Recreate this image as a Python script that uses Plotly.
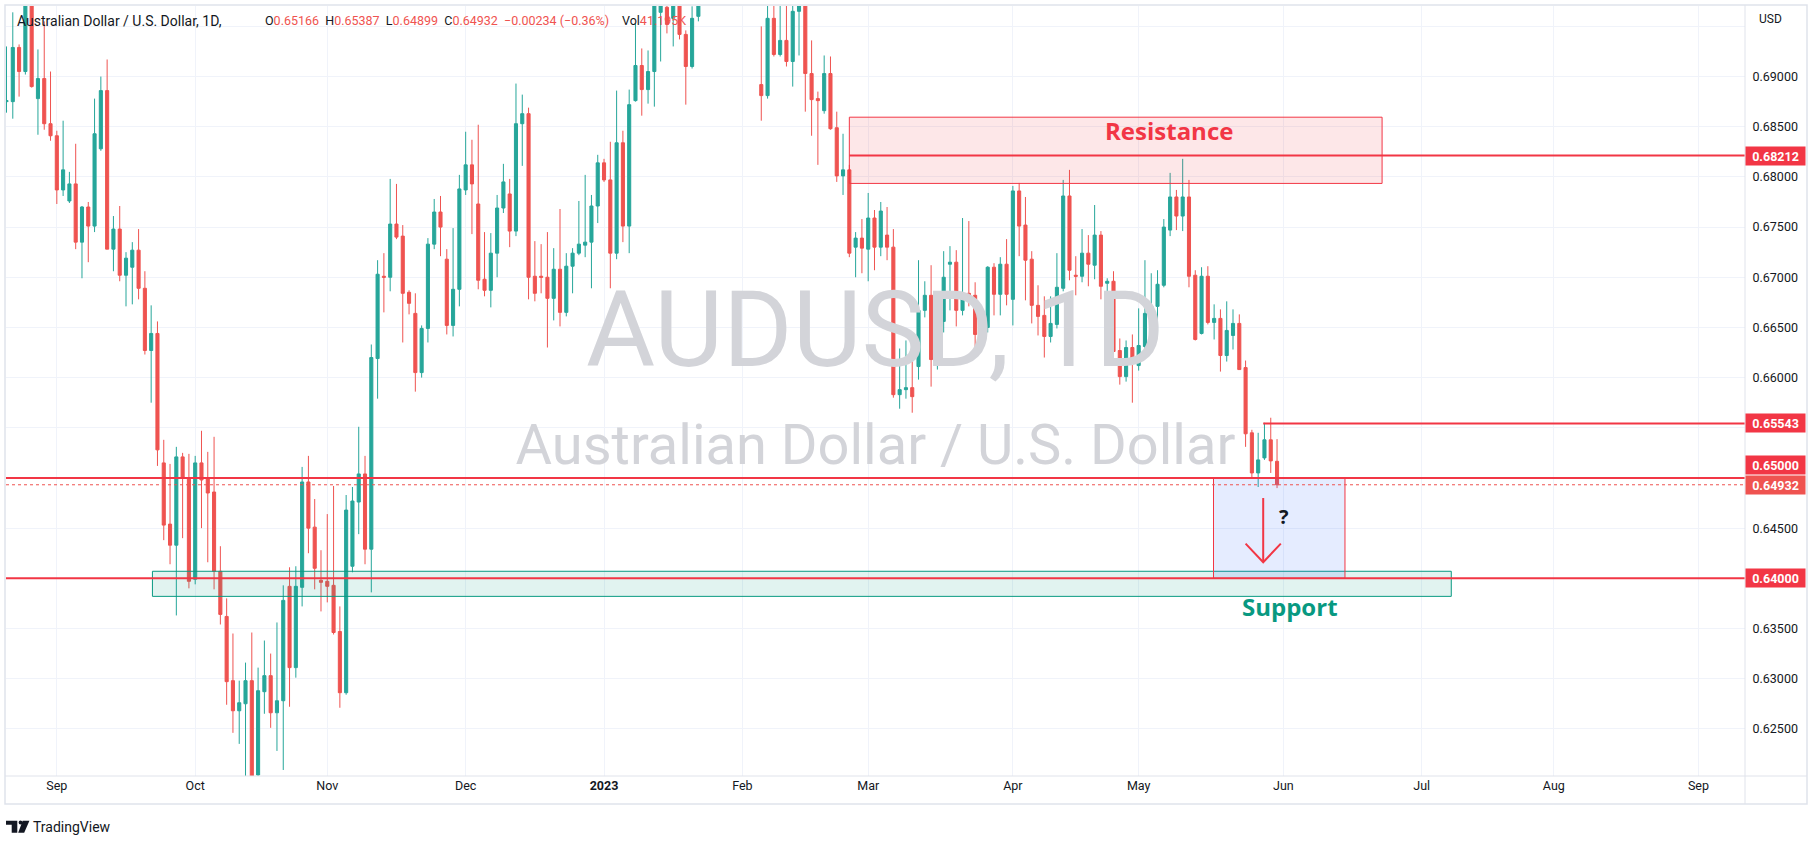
import numpy as np
import pandas as pd
import plotly.graph_objects as go

# ---------------- data (AUDUSD daily) ----------------
dates = pd.bdate_range("2022-08-22", "2023-05-31")

opens = [
    # Aug 22-31
    0.6875, 0.6875, 0.6929, 0.6905, 0.6990, 0.6878, 0.6898, 0.6853,
    # Sep
    0.6841, 0.6787, 0.6776, 0.6793, 0.6735, 0.6770, 0.6751, 0.6828, 0.6886, 0.6728, 0.6748,
    0.6702, 0.6710, 0.6727, 0.6689, 0.6627, 0.6644, 0.6515, 0.6454, 0.6433, 0.6521, 0.6500,
    # Oct
    0.6399, 0.6515, 0.6499, 0.6486, 0.6407, 0.6362, 0.6298, 0.6268, 0.6275, 0.6298, 0.6204,
    0.6287, 0.6303, 0.6266, 0.6278, 0.6392, 0.6311, 0.6391, 0.6496, 0.6451, 0.6398,
    # Nov
    0.6397, 0.6393, 0.6347, 0.6286, 0.6412, 0.6476, 0.6504, 0.6429, 0.6619, 0.6701, 0.6700,
    0.6753, 0.6741, 0.6685, 0.6664, 0.6605, 0.6649, 0.6733, 0.6765, 0.6718, 0.6652, 0.6688,
    # Dec
    0.6787, 0.6812, 0.6773, 0.6698, 0.6687, 0.6724, 0.6769, 0.6783, 0.6746, 0.6853, 0.6863,
    0.6701, 0.6701, 0.6700, 0.6679, 0.6708, 0.6665, 0.6711, 0.6724, 0.6732, 0.6735, 0.6771,
    # Jan
    0.6814, 0.6797, 0.6724, 0.6834, 0.6751, 0.6876, 0.6911, 0.6887, 0.6905, 0.6964, 0.6969,
    0.6958, 0.6985, 0.6942, 0.6910, 0.6960, 0.7025, 0.7010, 0.7090, 0.7115, 0.7100, 0.7050,
    # Feb
    0.7055, 0.7120, 0.7050, 0.6892, 0.6881, 0.6958, 0.6922, 0.6936, 0.6915, 0.6965,
    0.6990, 0.6903, 0.6878, 0.6866, 0.6903, 0.6849, 0.6801, 0.6807, 0.6730, 0.6739,
    # Mar
    0.6728, 0.6759, 0.6730, 0.6742, 0.6730, 0.6583, 0.6588, 0.6590, 0.6611, 0.6667, 0.6682, 0.6618,
    0.6656, 0.6713, 0.6715, 0.6667, 0.6684, 0.6682, 0.6652, 0.6650, 0.6710, 0.6683, 0.6713,
    # Apr
    0.6678, 0.6786, 0.6752, 0.6718, 0.6672, 0.6662, 0.6641, 0.6653, 0.6689, 0.6781,
    0.6702, 0.6701, 0.6724, 0.6712, 0.6742, 0.6694, 0.6696, 0.6627, 0.6601, 0.6630,
    # May
    0.6612, 0.6631, 0.6663, 0.6671, 0.6692, 0.6747, 0.6780, 0.6761, 0.6780, 0.6702, 0.6644, 0.6701,
    0.6655, 0.6659, 0.6622, 0.6642, 0.6654, 0.6610, 0.6545, 0.6505, 0.6520, 0.6538, 0.65166,
]
highs = [
    0.6930, 0.6964, 0.6932, 0.7005, 0.7008, 0.6927, 0.6955, 0.6905,
    0.6846, 0.6856, 0.6805, 0.6833, 0.6771, 0.6775, 0.6878, 0.6900, 0.6917, 0.6761, 0.6771,
    0.6725, 0.6735, 0.6748, 0.6706, 0.6672, 0.6656, 0.6538, 0.6514, 0.6531, 0.6525, 0.6524,
    0.6522, 0.6547, 0.6526, 0.6541, 0.6432, 0.6380, 0.6345, 0.6298, 0.6316, 0.6346, 0.6311,
    0.6338, 0.6325, 0.6356, 0.6393, 0.6411, 0.6412, 0.6511, 0.6522, 0.6479, 0.6428,
    0.6464, 0.6492, 0.6372, 0.6483, 0.6491, 0.6551, 0.6522, 0.6633, 0.6717, 0.6724, 0.6798,
    0.6793, 0.6752, 0.6687, 0.6684, 0.6652, 0.6739, 0.6778, 0.6781, 0.6728, 0.6749, 0.6802,
    0.6845, 0.6837, 0.6852, 0.6745, 0.6744, 0.6782, 0.6813, 0.6798, 0.6893, 0.6882, 0.6869,
    0.6736, 0.6733, 0.6745, 0.6729, 0.6768, 0.6724, 0.6729, 0.6776, 0.6802, 0.6782, 0.6822,
    0.6818, 0.6835, 0.6886, 0.6846, 0.6887, 0.6953, 0.6928, 0.6926, 0.6990, 0.7000, 0.6995,
    0.6990, 0.7010, 0.6946, 0.6970, 0.7040, 0.7060, 0.7100, 0.7142, 0.7135, 0.7110, 0.7070,
    0.7140, 0.7158, 0.7080, 0.6950, 0.6985, 0.6985, 0.6985, 0.6985, 0.6985, 0.7030,
    0.7010, 0.6936, 0.6885, 0.6921, 0.6920, 0.6865, 0.6843, 0.6812, 0.6745, 0.6758,
    0.6784, 0.6767, 0.6775, 0.6770, 0.6748, 0.6629, 0.6637, 0.6640, 0.6717, 0.6696, 0.6712, 0.6669,
    0.6726, 0.6731, 0.6727, 0.6759, 0.6756, 0.6695, 0.6666, 0.6711, 0.6714, 0.6720, 0.6738,
    0.6791, 0.6794, 0.6780, 0.6726, 0.6692, 0.6681, 0.6681, 0.6724, 0.6797, 0.6807,
    0.6721, 0.6748, 0.6742, 0.6772, 0.6746, 0.6699, 0.6706, 0.6639, 0.6637, 0.6643,
    0.6669, 0.6717, 0.6704, 0.6707, 0.6758, 0.6804, 0.6787, 0.6818, 0.6797, 0.6707, 0.6710, 0.6711,
    0.6673, 0.6668, 0.6676, 0.6668, 0.6663, 0.6617, 0.6548, 0.6545, 0.6555, 0.6560, 0.65387,
]
lows = [
    0.6864, 0.6858, 0.6880, 0.6902, 0.6889, 0.6842, 0.6847, 0.6836,
    0.6773, 0.6781, 0.6774, 0.6728, 0.6699, 0.6715, 0.6745, 0.6826, 0.6728, 0.6706, 0.6696,
    0.6671, 0.6673, 0.6678, 0.6623, 0.6575, 0.6512, 0.6438, 0.6414, 0.6363, 0.6440, 0.6390,
    0.6394, 0.6450, 0.6416, 0.6389, 0.6354, 0.6274, 0.6246, 0.6235, 0.6170, 0.6185, 0.6202,
    0.6265, 0.6251, 0.6228, 0.6209, 0.6272, 0.6301, 0.6372, 0.6425, 0.6389, 0.6367,
    0.6376, 0.6344, 0.6271, 0.6284, 0.6406, 0.6444, 0.6414, 0.6386, 0.6579, 0.6665, 0.6686,
    0.6738, 0.6635, 0.6663, 0.6586, 0.6600, 0.6635, 0.6728, 0.6721, 0.6643, 0.6641, 0.6671,
    0.6782, 0.6743, 0.6688, 0.6681, 0.6670, 0.6700, 0.6764, 0.6730, 0.6741, 0.6811, 0.6678,
    0.6676, 0.6684, 0.6630, 0.6657, 0.6651, 0.6661, 0.6684, 0.6722, 0.6720, 0.6689, 0.6754,
    0.6795, 0.6689, 0.6718, 0.6735, 0.6724, 0.6875, 0.6861, 0.6873, 0.6870, 0.6915, 0.6943,
    0.6930, 0.6937, 0.6872, 0.6908, 0.6955, 0.6990, 0.6995, 0.7070, 0.7075, 0.7040, 0.7010,
    0.7030, 0.7040, 0.6979, 0.6856, 0.6878, 0.6920, 0.6920, 0.6910, 0.6890, 0.6921,
    0.6865, 0.6841, 0.6812, 0.6863, 0.6847, 0.6795, 0.6782, 0.6720, 0.6700, 0.6704,
    0.6696, 0.6707, 0.6721, 0.6717, 0.6580, 0.6569, 0.6579, 0.6565, 0.6598, 0.6660, 0.6591, 0.6608,
    0.6645, 0.6667, 0.6651, 0.6662, 0.6671, 0.6626, 0.6635, 0.6645, 0.6662, 0.6662, 0.6672,
    0.6652, 0.6721, 0.6677, 0.6654, 0.6642, 0.6620, 0.6635, 0.6649, 0.6686, 0.6697,
    0.6682, 0.6695, 0.6691, 0.6698, 0.6678, 0.6667, 0.6616, 0.6593, 0.6596, 0.6575,
    0.6607, 0.6623, 0.6651, 0.6642, 0.6690, 0.6741, 0.6747, 0.6746, 0.6690, 0.6637, 0.6643, 0.6653,
    0.6638, 0.6606, 0.6616, 0.6628, 0.6608, 0.6531, 0.6500, 0.6491, 0.6518, 0.6505, 0.64899,
]
closes = [
    0.6876, 0.6929, 0.6905, 0.6990, 0.6890, 0.6898, 0.6853, 0.6841,
    0.6787, 0.6807, 0.6793, 0.6735, 0.6770, 0.6751, 0.6843, 0.6886, 0.6728, 0.6748, 0.6702,
    0.6719, 0.6727, 0.6689, 0.6627, 0.6644, 0.6528, 0.6453, 0.6433, 0.6521, 0.6500, 0.6397,
    0.6515, 0.6498, 0.6485, 0.6407, 0.6364, 0.6297, 0.6268, 0.6276, 0.6298, 0.6199, 0.6288,
    0.6303, 0.6266, 0.6278, 0.6378, 0.6311, 0.6392, 0.6496, 0.6450, 0.6410, 0.6396,
    0.6392, 0.6346, 0.6286, 0.6468, 0.6477, 0.6504, 0.6429, 0.6620, 0.6703, 0.6700, 0.6753,
    0.6740, 0.6684, 0.6674, 0.6605, 0.6649, 0.6733, 0.6765, 0.6750, 0.6652, 0.6688, 0.6788,
    0.6812, 0.6793, 0.6697, 0.6687, 0.6724, 0.6769, 0.6795, 0.6746, 0.6853, 0.6863, 0.6700,
    0.6684, 0.6700, 0.6679, 0.6708, 0.6665, 0.6711, 0.6724, 0.6733, 0.6735, 0.6771, 0.6814,
    0.6797, 0.6724, 0.6834, 0.6751, 0.6872, 0.6911, 0.6887, 0.6905, 0.6975, 0.6990, 0.6952,
    0.6980, 0.6942, 0.6910, 0.6958, 0.7025, 0.7010, 0.7090, 0.7115, 0.7100, 0.7050, 0.7055,
    0.7120, 0.7050, 0.6980, 0.6881, 0.6958, 0.6922, 0.6936, 0.6915, 0.6965, 0.6990,
    0.6903, 0.6877, 0.6876, 0.6903, 0.6848, 0.6801, 0.6807, 0.6724, 0.6739, 0.6729,
    0.6759, 0.6730, 0.6766, 0.6730, 0.6583, 0.6588, 0.6590, 0.6581, 0.6667, 0.6682, 0.6618, 0.6657,
    0.6700, 0.6715, 0.6667, 0.6684, 0.6682, 0.6643, 0.6650, 0.6710, 0.6683, 0.6713, 0.6683,
    0.6786, 0.6751, 0.6717, 0.6672, 0.6661, 0.6641, 0.6654, 0.6690, 0.6781, 0.6707,
    0.6701, 0.6724, 0.6713, 0.6742, 0.6691, 0.6696, 0.6626, 0.6601, 0.6630, 0.6614,
    0.6632, 0.6664, 0.6671, 0.6693, 0.6750, 0.6780, 0.6761, 0.6780, 0.6701, 0.6638, 0.6701, 0.6655,
    0.6659, 0.6622, 0.6647, 0.6654, 0.6608, 0.6544, 0.6505, 0.6518, 0.6538, 0.6517, 0.64932,
]
assert len(opens) == len(highs) == len(lows) == len(closes) == len(dates)

month_ticks = ["2022-09-01", "2022-10-03", "2022-11-01", "2022-12-01", "2023-01-02",
               "2023-02-01", "2023-03-01", "2023-04-03", "2023-05-01", "2023-06-01",
               "2023-07-03", "2023-08-01", "2023-09-01"]
month_labels = ["Sep", "Oct", "Nov", "Dec", "<b>2023</b>", "Feb", "Mar", "Apr", "May",
                "Jun", "Jul", "Aug", "Sep"]
price_ticks = [0.625, 0.630, 0.635, 0.640, 0.645, 0.650, 0.655, 0.660, 0.665,
               0.670, 0.675, 0.680, 0.685, 0.690, 0.695]
# tick labels hidden behind the price tags / header in the original
hidden_ticks = [0.640, 0.650, 0.655, 0.695]

# key levels (drawings)
resistance_level = 0.68212
recent_high = 0.65543
level_650 = 0.65000
support_level = 0.64000
last_price = closes[-1]
resistance_zone = (0.67935, 0.68595)
support_zone = (0.6382, 0.6407)
target_zone = (0.6400, 0.6500)
day_change, day_change_pct = -0.00234, -0.36
volume_text = "41.195K"

# ---------------- helpers ----------------
ORIGIN = np.datetime64("2022-09-01")


def bar(d):
    return int(np.busday_count(ORIGIN, np.datetime64(d)))


W, H = 1820, 846
ML, MR, MT, MB = 6, 75, 6, 70
PW, PH = W - ML - MR, H - MT - MB


def px(x):   # pixel x -> paper
    return (x - ML) / PW


def py(y):   # pixel y -> paper
    return (H - MB - y) / PH


x_idx = np.busday_count(ORIGIN, dates.values.astype("datetime64[D]"))
X0, X1 = -8.08, 268.4
Y0, Y1 = 0.6203, 0.69703

RED = "#f23645"
TEAL_TXT = "#089981"
UP = "#26a69a"
DOWN = "#ef5350"
INK = "#131722"
FONT = "Roboto"

fig = go.Figure()

# watermark (behind candles)
fig.add_trace(go.Scatter(
    x=[(X0 + X1) / 2, (X0 + X1) / 2], y=[0.66375, 0.65279],
    mode="text", text=["AUDUSD, 1D", "Australian Dollar / U.S. Dollar"],
    textfont=dict(family=FONT, size=[106, 56], color="#d3d4d9"),
    hoverinfo="skip", showlegend=False))

fig.add_trace(go.Candlestick(
    x=x_idx, open=opens, high=highs, low=lows, close=closes,
    increasing=dict(line=dict(color=UP, width=1), fillcolor=UP),
    decreasing=dict(line=dict(color=DOWN, width=1), fillcolor=DOWN),
    whiskerwidth=0, showlegend=False))

shapes = []
# zones
shapes.append(dict(type="rect", xref="x", yref="y", x0=bar("2023-02-24"), x1=bar("2023-06-23") - 0.3,
                   y0=resistance_zone[0], y1=resistance_zone[1],
                   fillcolor="rgba(242,54,69,0.12)", line=dict(color=RED, width=1)))
shapes.append(dict(type="rect", xref="x", yref="y", x0=bar("2022-09-22") + 0.2, x1=bar("2023-07-07") + 0.7,
                   y0=support_zone[0], y1=support_zone[1],
                   fillcolor="rgba(8,153,129,0.12)", line=dict(color=TEAL_TXT, width=1)))
shapes.append(dict(type="rect", xref="x", yref="y", x0=bar("2023-05-17") - 0.1, x1=bar("2023-06-15") - 0.2,
                   y0=target_zone[0], y1=target_zone[1],
                   fillcolor="rgba(41,98,255,0.12)", line=dict(color=RED, width=1)))
# horizontal levels
shapes.append(dict(type="line", xref="paper", yref="y", x0=0, x1=1, y0=level_650, y1=level_650,
                   line=dict(color=RED, width=2)))
shapes.append(dict(type="line", xref="paper", yref="y", x0=0, x1=1, y0=support_level, y1=support_level,
                   line=dict(color=RED, width=2)))
shapes.append(dict(type="line", xref="x", yref="y", x0=bar("2023-02-24"), x1=X1,
                   y0=resistance_level, y1=resistance_level, line=dict(color=RED, width=2)))
shapes.append(dict(type="line", xref="x", yref="y", x0=bar("2023-05-29") - 0.2, x1=X1,
                   y0=recent_high, y1=recent_high, line=dict(color=RED, width=2)))
shapes.append(dict(type="line", xref="paper", yref="y", x0=0, x1=1, y0=last_price, y1=last_price,
                   line=dict(color=DOWN, width=1, dash="dot")))
# arrow
ax = bar("2023-05-29") - 0.2
shapes.append(dict(type="line", xref="x", yref="y", x0=ax, x1=ax, y0=0.6480, y1=0.6417,
                   line=dict(color=RED, width=2)))
shapes.append(dict(type="path", xref="x", yref="y",
                   path=f"M {ax - 2.8},0.64346 L {ax},0.64160 L {ax + 2.8},0.64346",
                   line=dict(color=RED, width=2)))
# frame / separators
FR = "#e0e3eb"
shapes.append(dict(type="rect", xref="paper", yref="paper", x0=px(5), x1=px(1807), y0=py(804), y1=py(5),
                   line=dict(color=FR, width=1.5), fillcolor="rgba(0,0,0,0)", layer="below"))
shapes.append(dict(type="line", xref="paper", yref="paper", x0=1, x1=1, y0=py(804), y1=py(5),
                   line=dict(color=FR, width=1)))
shapes.append(dict(type="line", xref="paper", yref="paper", x0=px(5), x1=px(1807), y0=0, y1=0,
                   line=dict(color=FR, width=1)))


# TradingView logo glyph
def ppath(points):
    return "M " + " L ".join(f"{px(a)},{py(b)}" for a, b in points) + " Z"


logo = dict(type="path", xref="paper", yref="paper", fillcolor=INK, line=dict(width=0))
shapes.append(dict(logo, path=ppath([(6, 820.7), (17.3, 820.7), (17.3, 832.7), (11.7, 832.7),
                                     (11.7, 824.7), (6, 824.7)])))
shapes.append(dict(logo, path=ppath([(22.6, 820.7), (29.4, 820.7), (24.2, 832.7), (18.2, 832.7)])))
shapes.append(dict(type="circle", xref="paper", yref="paper", x0=px(18.6), x1=px(22.4),
                   y0=py(824.4), y1=py(820.6), fillcolor=INK, line=dict(width=0)))

annotations = []
# price tags on the axis (0.65000 tag pushed up by the last-price tag, as in the original)
for val, col, shift in [(resistance_level, RED, 0), (recent_high, RED, 0), (level_650, RED, 13),
                        (last_price, DOWN, 0), (support_level, RED, 0)]:
    annotations.append(dict(xref="paper", yref="y", x=1, y=val, xanchor="left", yanchor="middle",
                            yshift=shift, text=f"<b>{val:.5f}</b>", showarrow=False,
                            font=dict(family=FONT, size=12.5, color="white"),
                            bgcolor=col, width=55, height=14, borderpad=2, align="center"))
# drawing texts
annotations.append(dict(xref="x", yref="y", x=176.8, y=0.6846, text="<b>Resistance</b>", showarrow=False,
                        font=dict(family="Open Sans", size=24, color=RED)))
annotations.append(dict(xref="x", yref="y", x=196.1, y=0.6372, text="<b>Support</b>", showarrow=False,
                        font=dict(family="Open Sans", size=24, color=TEAL_TXT)))
annotations.append(dict(xref="x", yref="y", x=195.1, y=0.6462, text="<b>?</b>", showarrow=False,
                        font=dict(family="Open Sans", size=20, color=INK)))
# legend header
o, h, l, c = opens[-1], highs[-1], lows[-1], closes[-1]
rs = lambda v: f"<span style='color:{DOWN}'>{v}</span>"
gap = "&nbsp;&nbsp;"
annotations.append(dict(xref="paper", yref="paper", x=px(15), y=py(21), xanchor="left", yanchor="middle",
                        text="Australian Dollar / U.S. Dollar, 1D,", showarrow=False,
                        font=dict(family=FONT, size=14, color=INK)))
annotations.append(dict(xref="paper", yref="paper", x=px(263), y=py(21), xanchor="left", yanchor="middle",
                        text=(f"O{rs(f'{o:.5f}')}{gap}H{rs(f'{h:.5f}')}{gap}L{rs(f'{l:.5f}')}{gap}"
                              f"C{rs(f'{c:.5f}')}{gap}"
                              + rs(f"−{abs(day_change):.5f} (−{abs(day_change_pct):.2f}%)")),
                        showarrow=False, font=dict(family=FONT, size=12.5, color=INK)))
annotations.append(dict(xref="paper", yref="paper", x=px(620), y=py(21), xanchor="left", yanchor="middle",
                        text="Vol" + rs(volume_text), showarrow=False,
                        font=dict(family=FONT, size=12.5, color=INK)))
annotations.append(dict(xref="paper", yref="paper", x=px(1757), y=py(19), xanchor="left", yanchor="middle",
                        text="USD", showarrow=False, font=dict(family=FONT, size=12, color=INK)))
annotations.append(dict(xref="paper", yref="paper", x=px(31), y=py(827), xanchor="left", yanchor="middle",
                        text="TradingView", showarrow=False,
                        font=dict(family=FONT, size=14, color=INK)))

fig.update_layout(
    width=W, height=H,
    margin=dict(l=ML, r=MR, t=MT, b=MB, pad=0),
    paper_bgcolor="white", plot_bgcolor="white",
    showlegend=False, shapes=shapes, annotations=annotations,
    font=dict(family=FONT, color=INK),
    xaxis=dict(range=[X0, X1], tickvals=[bar(d) for d in month_ticks], ticktext=month_labels,
               showgrid=True, gridcolor="#f0f3fa", gridwidth=1, zeroline=False, showline=False,
               ticks="", tickfont=dict(family=FONT, size=12.5, color=INK),
               rangeslider=dict(visible=False), fixedrange=True),
    yaxis=dict(range=[Y0, Y1], side="right", tickvals=price_ticks,
               ticktext=["" if v in hidden_ticks else f"{v:.5f}" for v in price_ticks],
               showgrid=True, gridcolor="#f0f3fa", gridwidth=1, zeroline=False, showline=False,
               ticks="outside", ticklen=4, tickcolor="rgba(0,0,0,0)",
               tickfont=dict(family=FONT, size=12.5, color=INK), fixedrange=True),
)

fig.write_html("out.html", config={"displayModeBar": False},
               post_script="document.body.style.margin='0';document.body.style.overflow='hidden';")
